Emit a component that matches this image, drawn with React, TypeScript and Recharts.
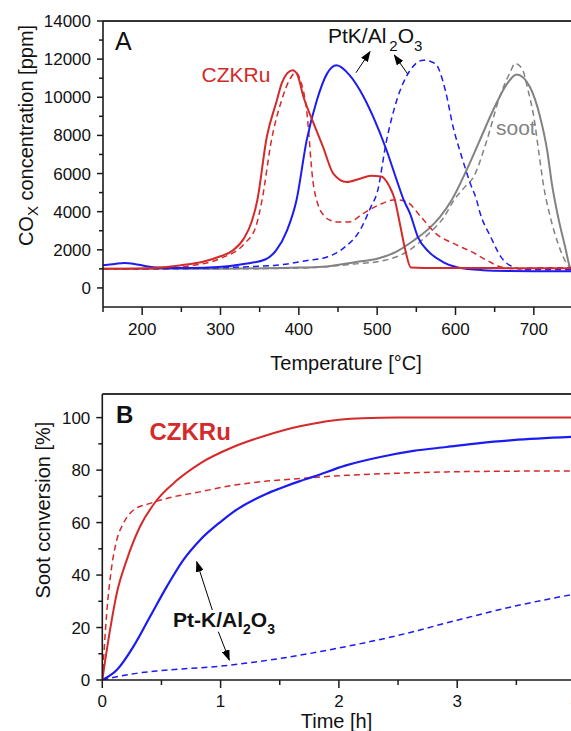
import React from 'react';
import { LineChart, Line, XAxis, YAxis, ReferenceLine } from 'recharts';

const FONT = '"Liberation Sans", Arial, Helvetica, sans-serif';
const RED = '#d42a2a';
const BLUE = '#1c1cf2';
const GRAY = '#828282';
const AXIS = '#1a1a1a';

// ---- panel A: COx vs temperature ----
const czkruT = [150, 215, 250, 280, 300, 316, 330, 340, 347, 359, 372, 378, 385, 392, 398, 406, 419, 431, 444, 461, 478, 492, 505, 516, 522, 529, 536, 543, 560, 600, 650, 700, 750];
const czkruV = [1000, 1050, 1190, 1400, 1660, 1970, 2600, 3500, 4600, 7900, 9840, 10720, 11250, 11420, 11200, 10010, 8620, 7390, 6000, 5560, 5730, 5880, 5850, 5300, 4700, 3370, 1970, 1070, 1050, 1050, 1040, 1030, 1030];

const czkruLooseT = [150, 220, 260, 300, 330, 345, 353, 365, 378, 389, 396, 402, 410, 418, 425, 432, 440, 450, 464, 482, 501, 524, 538, 556, 575, 598, 621, 640, 658, 677, 700, 750];
const czkruLooseV = [1000, 1000, 1150, 1550, 2300, 3200, 4600, 7740, 9840, 10980, 11300, 10900, 9300, 5600, 4300, 3800, 3550, 3460, 3460, 3900, 4330, 4630, 4510, 3720, 2850, 2320, 1890, 1450, 1100, 1010, 1050, 1060];

const ptkT = [150, 165, 177, 190, 205, 228, 260, 297, 334, 357, 371, 385, 397, 410, 423, 436, 448, 465, 478, 495, 512, 525, 534, 542, 552, 566, 584, 603, 635, 668, 700, 750];
const ptkV = [1190, 1260, 1310, 1260, 1140, 1050, 1050, 1100, 1280, 1490, 1970, 3020, 4600, 7740, 9840, 11240, 11680, 11150, 10370, 8970, 7220, 5650, 4600, 3900, 2670, 1890, 1360, 1070, 930, 890, 880, 880];

const ptkLooseT = [150, 250, 343, 371, 413, 436, 459, 478, 492, 500, 512, 525, 542, 559, 574, 587, 597, 608, 619, 627, 631, 645, 658, 672, 691, 720, 750];
const ptkLooseV = [1000, 1020, 1130, 1190, 1450, 1620, 2150, 3020, 4250, 5000, 7740, 9840, 11410, 11940, 11770, 10370, 8440, 6870, 5470, 4600, 3980, 2670, 1630, 1130, 960, 950, 950];

const sootT = [150, 200, 297, 390, 436, 473, 501, 524, 547, 566, 580, 595, 614, 631, 648, 666, 678, 695, 708, 717, 723, 731, 740, 746, 750];
const sootV = [1000, 1000, 1010, 1060, 1130, 1360, 1540, 1890, 2500, 3110, 3720, 4600, 6170, 7740, 9320, 10720, 11200, 10540, 8970, 7220, 5470, 3720, 2150, 1100, 900];

const sootLooseT = [150, 300, 400, 470, 510, 540, 566, 585, 598, 612, 623, 640, 655, 670, 676, 685, 693, 700, 706, 712, 721, 731, 742, 750];
const sootLooseV = [1000, 1000, 1040, 1250, 1450, 1950, 2850, 3700, 4600, 5300, 5820, 7740, 9840, 11330, 11770, 11500, 10300, 8970, 7220, 5470, 3720, 2320, 1270, 950];

const tempTicks = [150, 200, 250, 300, 350, 400, 450, 500, 550, 600, 650, 700, 750];
const ppmTicks = [0, 1000, 2000, 3000, 4000, 5000, 6000, 7000, 8000, 9000, 10000, 11000, 12000, 13000, 14000];

// ---- panel B: soot conversion vs time ----
const czkruConvT = [0, 0.065, 0.122, 0.206, 0.318, 0.46, 0.628, 0.825, 1.106, 1.39, 1.67, 1.78, 2.0, 2.2, 2.5, 3, 3.5, 4];
const czkruConvV = [0, 19, 33, 45.7, 58.4, 68.5, 76, 82.5, 88.8, 93.3, 96.7, 97.7, 99.2, 99.8, 100, 100, 100, 100];

const czkruLooseConvT = [0, 0.037, 0.079, 0.122, 0.177, 0.262, 0.403, 0.544, 0.825, 1.106, 1.39, 1.67, 2.06, 2.5, 2.91, 3.5, 4];
const czkruLooseConvV = [0, 25.4, 43, 53.3, 59.6, 64.7, 67.3, 69.2, 71.7, 74.2, 75.8, 76.8, 78, 78.8, 79.3, 79.6, 79.7];

const ptkConvT = [0, 0.122, 0.262, 0.403, 0.544, 0.684, 0.825, 1.0, 1.106, 1.39, 1.5, 1.67, 1.78, 2.06, 2.35, 2.63, 2.91, 3.19, 3.47, 4];
const ptkConvV = [0, 3.8, 12.7, 24.1, 35.5, 45.7, 53.3, 60.3, 64, 71, 73, 75.8, 77.4, 81.8, 85, 87.3, 88.8, 90.3, 91.4, 92.7];

const ptkLooseConvT = [0, 0.25, 0.5, 1, 1.5, 2, 2.5, 3, 3.5, 4];
const ptkLooseConvV = [0, 2.3, 3.6, 5.3, 8.2, 12.2, 17, 22.8, 28.3, 32.8];

const timeTicks = [0, 0.5, 1, 1.5, 2, 2.5, 3, 3.5, 4];
const convTicks = [0, 10, 20, 30, 40, 50, 60, 70, 80, 90, 100];

const zip = (xs: number[], ys: number[]) => xs.map((x, i) => ({ x, y: ys[i] }));

// ticks drawn by hand so minor ticks get no label
const xTick = (step: number, labelDy: number) => (p: any) => {
  const v = p.payload.value;
  const major = Math.abs(v / step - Math.round(v / step)) < 1e-6;
  return (
    <g>
      <line x1={p.x} y1={p.y} x2={p.x} y2={p.y + (major ? 8 : 5)} stroke={AXIS} strokeWidth={1.5} />
      {major && (
        <text x={p.x} y={p.y + labelDy} textAnchor="middle" fontSize={17} fill="#111" fontFamily={FONT}>
          {v}
        </text>
      )}
    </g>
  );
};

const yTick = (step: number) => (p: any) => {
  const v = p.payload.value;
  const major = v % step === 0;
  return (
    <g>
      <line x1={p.x - (major ? 6 : 4)} y1={p.y} x2={p.x} y2={p.y} stroke={AXIS} strokeWidth={1.5} />
      {major && (
        <text x={p.x - 12} y={p.y + 6} textAnchor="end" fontSize={17} fill="#111" fontFamily={FONT}>
          {v}
        </text>
      )}
    </g>
  );
};

const Arrow = ({ x1, y1, x2, y2 }: { x1: number; y1: number; x2: number; y2: number }) => (
  <line x1={x1} y1={y1} x2={x2} y2={y2} stroke="#000" strokeWidth={1} markerEnd="url(#head)" />
);

export default function App() {
  return (
    <div style={{ position: 'absolute', left: 0, top: 0, width: 571, height: 731, overflow: 'hidden', background: '#fff', fontFamily: FONT }}>
      <div style={{ position: 'absolute', left: 0, top: 0 }}>
        <LineChart width={580} height={380} margin={{ top: 21, right: 7, bottom: 43, left: 0 }}>
          <XAxis dataKey="x" type="number" domain={[150, 750]} ticks={tempTicks} interval={0} height={30}
            tickSize={0} tickMargin={0} tick={xTick(100, 28)} axisLine={{ stroke: AXIS, strokeWidth: 1.6 }} tickLine={false} allowDataOverflow />
          <YAxis type="number" domain={[-1000, 14000]} ticks={ppmTicks} interval={0} width={103}
            tickSize={0} tickMargin={0} tick={yTick(2000)} axisLine={{ stroke: AXIS, strokeWidth: 1.6 }} tickLine={false} allowDataOverflow />
          <ReferenceLine y={14000} stroke="#333" strokeWidth={2} ifOverflow="visible" />
          <Line data={zip(sootT, sootV)} dataKey="y" type="monotone" stroke={GRAY} strokeWidth={2} dot={false} isAnimationActive={false} />
          <Line data={zip(sootLooseT, sootLooseV)} dataKey="y" type="monotone" stroke={GRAY} strokeWidth={1.5} strokeDasharray="6 4" dot={false} isAnimationActive={false} />
          <Line data={zip(ptkLooseT, ptkLooseV)} dataKey="y" type="monotone" stroke={BLUE} strokeWidth={1.5} strokeDasharray="6 4" dot={false} isAnimationActive={false} />
          <Line data={zip(czkruLooseT, czkruLooseV)} dataKey="y" type="monotone" stroke={RED} strokeWidth={1.5} strokeDasharray="6 4" dot={false} isAnimationActive={false} />
          <Line data={zip(ptkT, ptkV)} dataKey="y" type="monotone" stroke={BLUE} strokeWidth={2} dot={false} isAnimationActive={false} />
          <Line data={zip(czkruT, czkruV)} dataKey="y" type="monotone" stroke={RED} strokeWidth={2} dot={false} isAnimationActive={false} />
        </LineChart>
      </div>

      <div style={{ position: 'absolute', left: 0, top: 380 }}>
        <LineChart width={590} height={351} margin={{ top: 14, right: 14.5, bottom: 21, left: 0 }}>
          <XAxis dataKey="x" type="number" domain={[0, 4]} ticks={timeTicks} interval={0} height={30}
            tickSize={0} tickMargin={0} tick={xTick(1, 27)} axisLine={{ stroke: AXIS, strokeWidth: 1.6 }} tickLine={false} allowDataOverflow />
          <YAxis type="number" domain={[0, 109]} ticks={convTicks} interval={0} width={102.3}
            tickSize={0} tickMargin={0} tick={yTick(20)} axisLine={{ stroke: AXIS, strokeWidth: 1.6 }} tickLine={false} allowDataOverflow />
          <ReferenceLine y={109} stroke="#333" strokeWidth={2} ifOverflow="visible" />
          <Line data={zip(ptkLooseConvT, ptkLooseConvV)} dataKey="y" type="monotone" stroke={BLUE} strokeWidth={1.5} strokeDasharray="6 4" dot={false} isAnimationActive={false} />
          <Line data={zip(czkruLooseConvT, czkruLooseConvV)} dataKey="y" type="monotone" stroke={RED} strokeWidth={1.5} strokeDasharray="6 4" dot={false} isAnimationActive={false} />
          <Line data={zip(ptkConvT, ptkConvV)} dataKey="y" type="monotone" stroke={BLUE} strokeWidth={2.2} dot={false} isAnimationActive={false} />
          <Line data={zip(czkruConvT, czkruConvV)} dataKey="y" type="monotone" stroke={RED} strokeWidth={2} dot={false} isAnimationActive={false} />
        </LineChart>
      </div>

      <svg width={571} height={731} style={{ position: 'absolute', left: 0, top: 0, pointerEvents: 'none' }} fontFamily={FONT}>
        <defs>
          <marker id="head" markerUnits="userSpaceOnUse" markerWidth={11} markerHeight={8} refX={10} refY={4} orient="auto">
            <path d="M0,0 L11,4 L0,8 z" fill="#000" />
          </marker>
        </defs>

        {/* panel A */}
        <text x={115} y={50} fontSize={25} fill="#111">A</text>
        <text x={201.5} y={81.7} fontSize={21} fill={RED}>CZKRu</text>
        <text x={328} y={43.3} fontSize={21} fill="#111">
          PtK/Al<tspan dx={3} dy={8} fontSize={15}>2</tspan><tspan dy={-8} fontSize={21}>O</tspan><tspan dy={8} fontSize={15}>3</tspan>
        </text>
        <text x={496} y={135} fontSize={21} fill={GRAY}>soot</text>
        <Arrow x1={356} y1={72.7} x2={370} y2={51.7} />
        <Arrow x1={407.7} y1={74} x2={394.3} y2={55} />
        <text x={346} y={370} textAnchor="middle" fontSize={20} fill="#111">Temperature [°C]</text>
        <text transform="translate(33,135.5) rotate(-90)" textAnchor="middle" fontSize={20} fill="#111">
          CO<tspan dy={5} fontSize={15}>X</tspan><tspan dy={-5} fontSize={20}> concentration [ppm]</tspan>
        </text>

        {/* panel B */}
        <text x={116} y={423} fontSize={24} fontWeight="bold" fill="#111">B</text>
        <text x={149.5} y={440} fontSize={24} fontWeight="bold" fill={RED}>CZKRu</text>
        <text x={173} y={626.7} fontSize={21} fontWeight="bold" fill="#111">
          Pt-K/Al<tspan dy={7} fontSize={14}>2</tspan><tspan dy={-7} fontSize={21}>O</tspan><tspan dy={7} fontSize={14}>3</tspan>
        </text>
        <Arrow x1={212.3} y1={610} x2={196.7} y2={561.7} />
        <Arrow x1={218.3} y1={631.7} x2={229.3} y2={660} />
        <text x={336.5} y={728} textAnchor="middle" fontSize={20} fill="#111">Time [h]</text>
        <text transform="translate(50,510) rotate(-90)" textAnchor="middle" fontSize={20} fill="#111">Soot ccnversion [%]</text>
      </svg>
    </div>
  );
}
